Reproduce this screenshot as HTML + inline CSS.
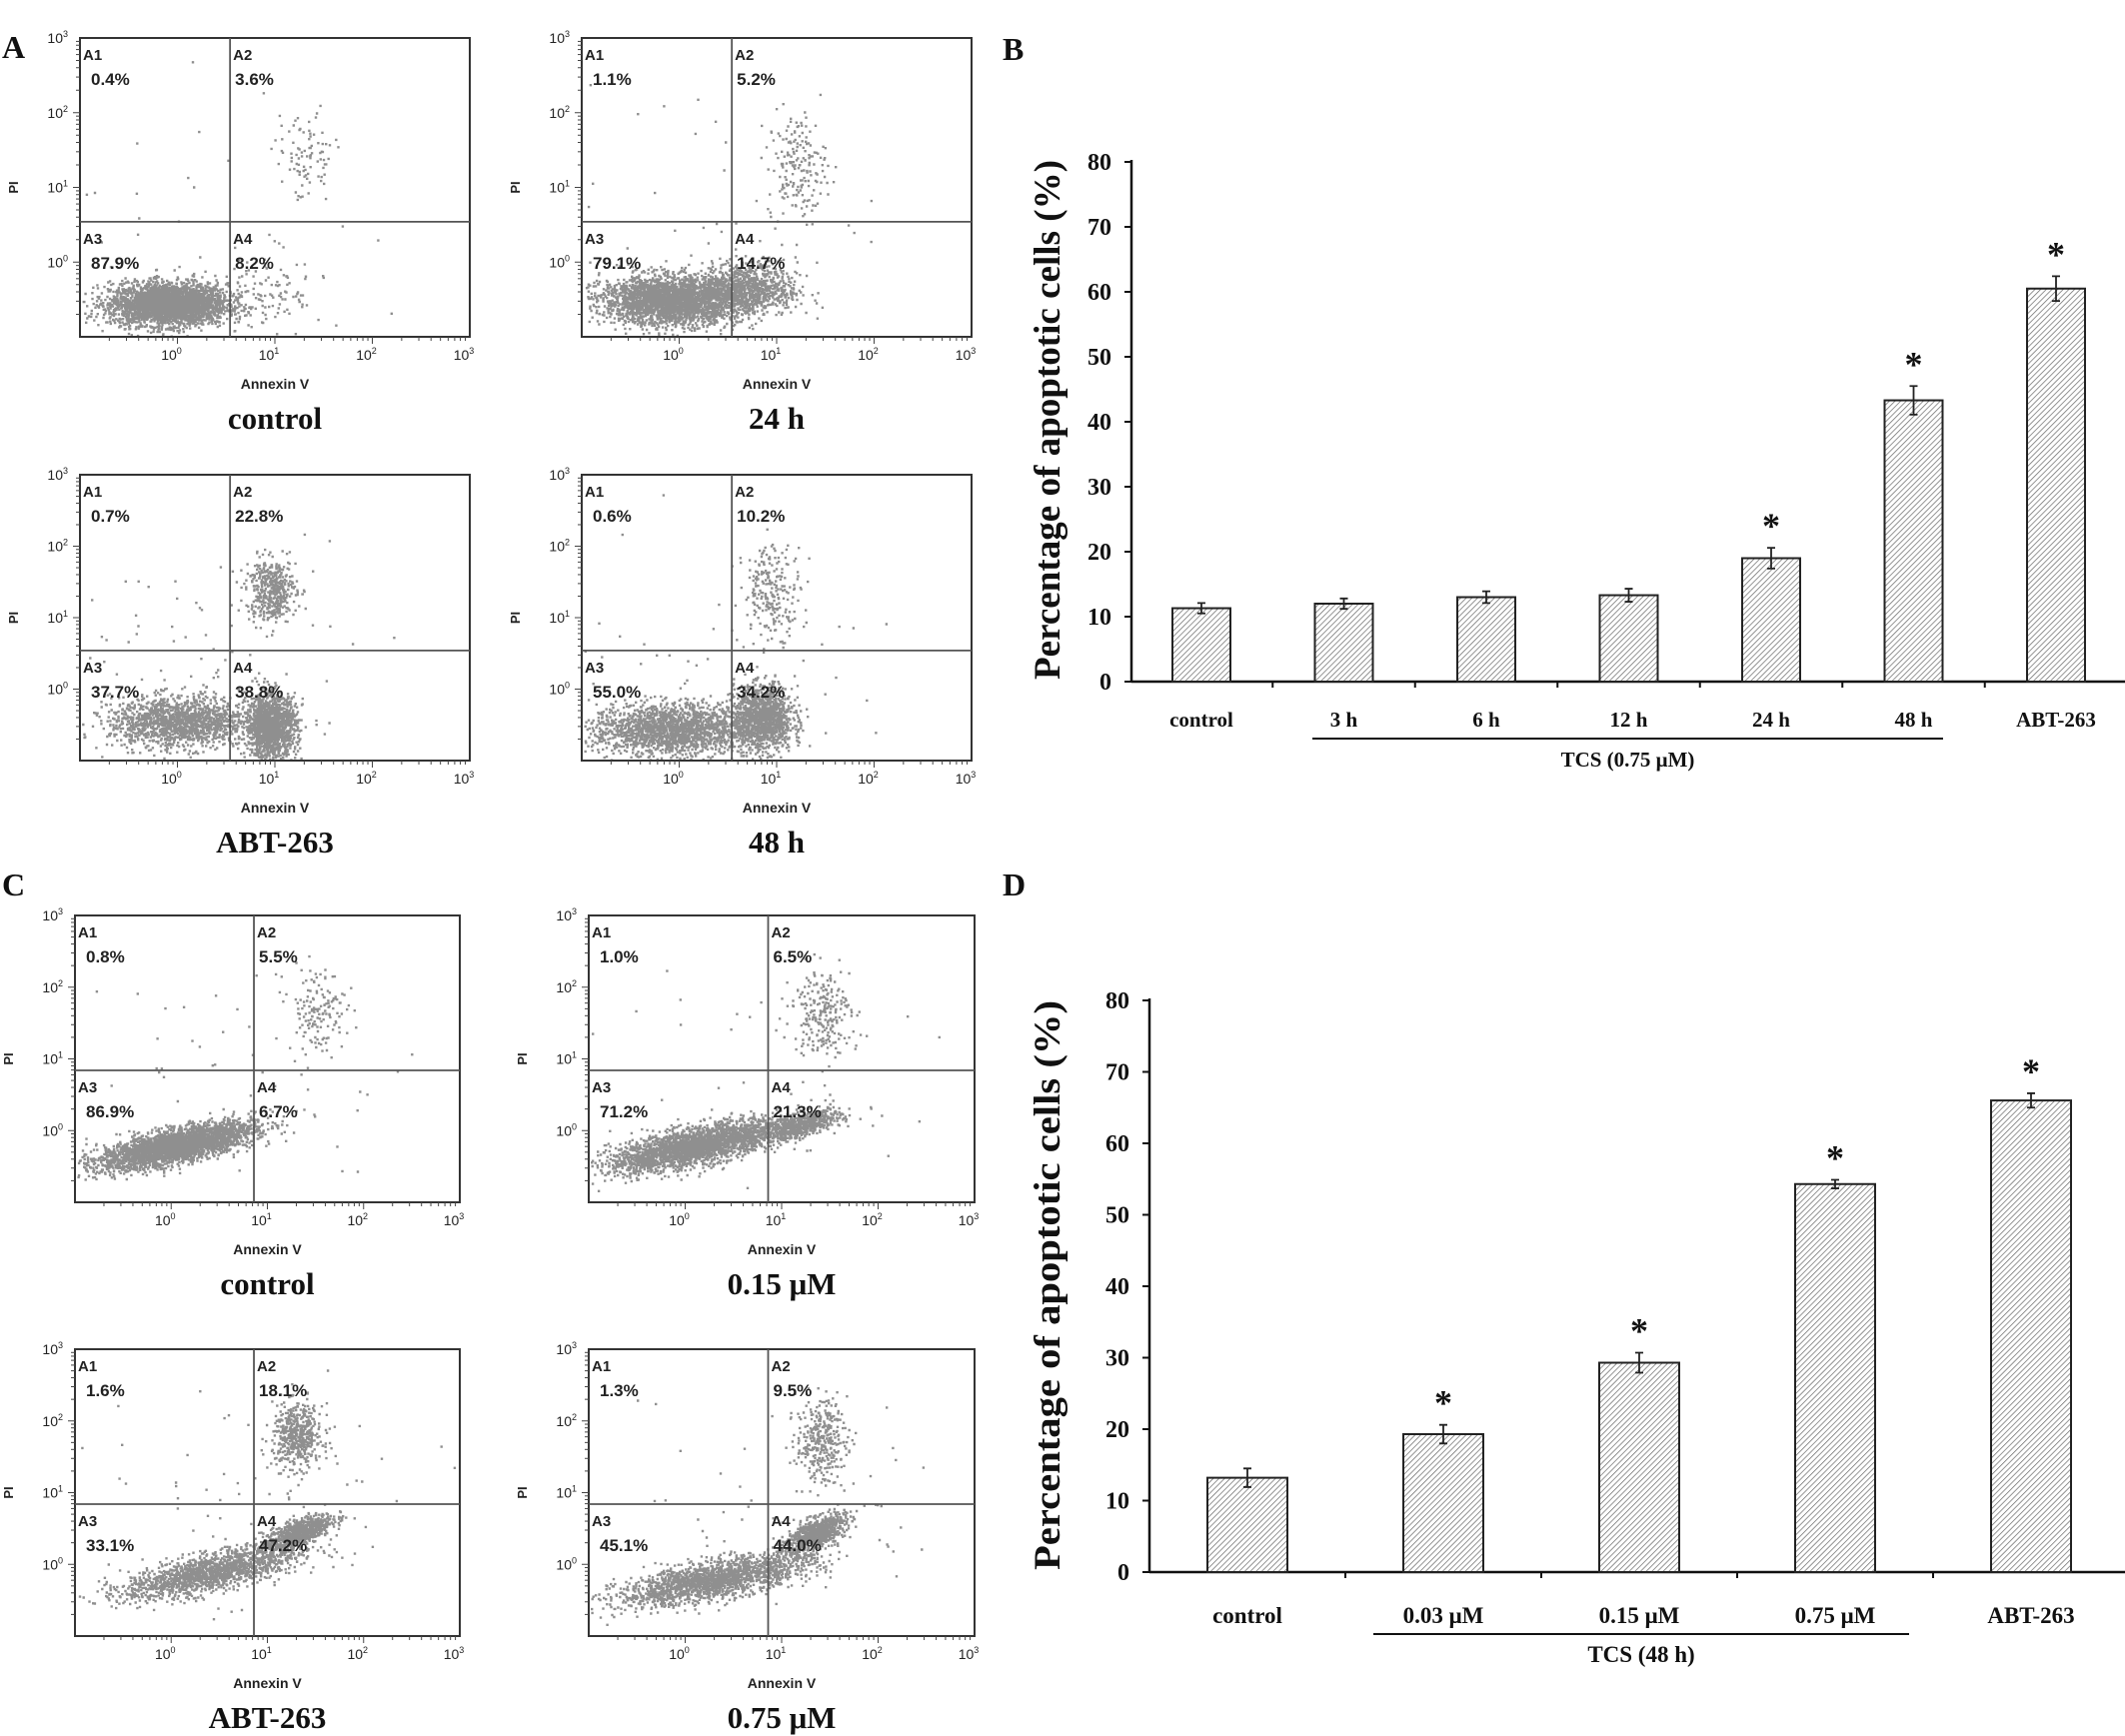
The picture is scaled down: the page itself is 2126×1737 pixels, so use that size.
<!DOCTYPE html>
<html><head><meta charset="utf-8"><style>
html,body{margin:0;padding:0;background:#fff;}
svg{display:block;}
.ser{font-family:"Liberation Serif",serif;font-weight:bold;fill:#111;}
.san{font-family:"Liberation Sans",sans-serif;fill:#222;}
</style></head><body>
<svg id="fig" width="2126" height="1737" viewBox="0 0 2126 1737" xmlns="http://www.w3.org/2000/svg">
<defs>
<pattern id="hatch" width="4" height="4" patternUnits="userSpaceOnUse" patternTransform="rotate(45)">
<rect width="4" height="4" fill="#fff"/><line x1="0" y1="0" x2="0" y2="4" stroke="#666" stroke-width="1.4"/>
</pattern>
</defs>
<text class="ser" x="2" y="58" font-size="32">A</text>
<text class="ser" x="1003" y="60" font-size="32">B</text>
<text class="ser" x="2" y="896" font-size="32">C</text>
<text class="ser" x="1003" y="896" font-size="32">D</text>
<g id="flows"></g>
<g id="bars"></g>
</svg>
<script>
// ---- Bar chart data ----
const catsB = ["control","3 h","6 h","12 h","24 h","48 h","ABT-263"];
const valsB = [11.3,12.0,13.0,13.3,19.0,43.3,60.5];
const errsB = [0.8,0.8,0.9,1.0,1.6,2.2,1.9];
const starB = [false,false,false,false,true,true,true];
const catsD = ["control","0.03 μM","0.15 μM","0.75 μM","ABT-263"];
const valsD = [13.2,19.3,29.3,54.3,66.0];
const errsD = [1.3,1.3,1.4,0.6,1.0];
const starD = [false,true,true,true,true];
const yTicks = [0,10,20,30,40,50,60,70,80];
// ---- Flow cytometry data ----
const flowTitles = ["control","24 h","ABT-263","48 h","control","0.15 μM","ABT-263","0.75 μM"];
const flowPcts = [
 ["0.4%","3.6%","87.9%","8.2%"],["1.1%","5.2%","79.1%","14.7%"],
 ["0.7%","22.8%","37.7%","38.8%"],["0.6%","10.2%","55.0%","34.2%"],
 ["0.8%","5.5%","86.9%","6.7%"],["1.0%","6.5%","71.2%","21.3%"],
 ["1.6%","18.1%","33.1%","47.2%"],["1.3%","9.5%","45.1%","44.0%"]];
// clusters: [cx, cy, sx, sy, corr, n] in log10 units
const flowClusters = [
 [[-0.1,-0.55,0.3,0.14,0,3200],[1.3,1.4,0.15,0.3,0,90],[0.9,-0.4,0.3,0.3,0,120],[0.0,0.5,0.8,0.8,0,30]],
 [[-0.1,-0.5,0.35,0.16,0,2800],[0.7,-0.35,0.25,0.18,0,900],[1.2,1.3,0.15,0.35,0,180],[0.3,0.8,0.8,0.8,0,40]],
 [[0.0,-0.45,0.35,0.18,0,1500],[0.95,-0.5,0.13,0.22,0,1500],[0.95,1.4,0.13,0.22,0,450],[0.5,0.5,0.8,0.9,0,60]],
 [[-0.1,-0.55,0.4,0.18,0,1900],[0.85,-0.4,0.15,0.22,0,1300],[0.95,1.4,0.15,0.32,0,230],[0.5,0.6,0.8,0.9,0,50]],
 [[0.05,-0.2,0.4,0.16,0.7,3200],[1.5,1.7,0.15,0.3,0,150],[0.8,0.8,0.9,0.9,0,50]],
 [[0.1,-0.2,0.45,0.18,0.7,2600],[1.2,0.1,0.2,0.1,0.6,600],[1.4,1.7,0.15,0.3,0,230],[0.8,0.8,0.9,0.9,0,50]],
 [[0.4,-0.1,0.45,0.18,0.7,1600],[1.3,0.45,0.18,0.13,0.7,800],[1.3,1.8,0.13,0.22,0,500],[0.9,0.9,0.9,0.9,0,70]],
 [[0.3,-0.2,0.5,0.18,0.7,1900],[1.35,0.45,0.15,0.13,0.6,800],[1.4,1.75,0.13,0.28,0,330],[0.9,0.9,0.9,0.9,0,60]]];
const flowQuad = [[0.54,0.54],[0.54,0.54],[0.54,0.54],[0.54,0.54],[0.86,0.84],[0.86,0.84],[0.86,0.84],[0.86,0.84]];
const flowBoxes = [[80,38,470,337],[582,38,972,337],[80,475,470,761],[582,475,972,761],
 [75,916,460,1203],[589,916,975,1203],[75,1350,460,1637],[589,1350,975,1637]];

const NS="http://www.w3.org/2000/svg";
function mk(tag,attrs,parent){const e=document.createElementNS(NS,tag);for(const k in attrs)e.setAttribute(k,attrs[k]);parent.appendChild(e);return e;}
let seed=12345;function rnd(){seed=(seed*1103515245+12345)%2147483648;return seed/2147483648;}
function gauss(){let u=rnd()||1e-9,v=rnd();return Math.sqrt(-2*Math.log(u))*Math.cos(2*Math.PI*v);}

const flows=document.getElementById('flows');
flowBoxes.forEach((b,i)=>{
 const [x0,y0,x1,y1]=b;
 const g=mk('g',{},flows);
 
 
 const sx=v=>x0+(v+1)/4*(x1-x0), sy=v=>y1-(v+1)/4*(y1-y0);
 let d="";
 flowClusters[i].forEach(c=>{const [cx,cy,ssx,ssy,r,n]=c;
  for(let k=0;k<n;k++){const a=gauss(),bb=gauss();const lx=cx+ssx*a, ly=cy+ssy*(r*a+Math.sqrt(1-r*r)*bb);
   if(lx<-0.98||lx>2.98||ly<-0.98||ly>2.98)continue;d+="M"+sx(lx).toFixed(1)+" "+sy(ly).toFixed(1)+"h2.4v2.4h-2.4z";}});
 const dots=mk('path',{d:d,fill:'#8f8f8f'},g);
 
 
 const box=mk('rect',{x:x0,y:y0,width:x1-x0,height:y1-y0,fill:'none',stroke:'#333','stroke-width':2},g);
 
 
 const qx=sx(flowQuad[i][0]), qy=sy(flowQuad[i][1]);
 mk('line',{x1:qx,y1:y0,x2:qx,y2:y1,stroke:'#555','stroke-width':1.8},g);
 mk('line',{x1:x0,y1:qy,x2:x1,y2:qy,stroke:'#555','stroke-width':1.8},g);
 for(let dec=-1;dec<3;dec++){for(let m=1;m<10;m++){const v=dec+Math.log10(m);if(v<=-1)continue;const L=m==1?7:4;
  mk('line',{x1:sx(v),y1:y1,x2:sx(v),y2:y1+L,stroke:'#444','stroke-width':1},g);
  mk('line',{x1:x0,y1:sy(v),x2:x0-L,y2:sy(v),stroke:'#444','stroke-width':1},g);}}
 for(let e=0;e<=3;e++){
  const t=mk('text',{x:sx(e)-6,y:y1+23,'font-size':14,'text-anchor':'middle',class:'san'},g);t.textContent='10';
  const s=mk('tspan',{dy:-6,'font-size':9},t);s.textContent=String(e);
  const t2=mk('text',{x:x0-12,y:sy(e)+5,'font-size':14,'text-anchor':'end',class:'san'},g);t2.textContent='10';
  const s2=mk('tspan',{dy:-6,'font-size':9},t2);s2.textContent=String(e);}
 const ax=mk('text',{x:(x0+x1)/2,y:y1+52,'font-size':14,'font-weight':'bold','text-anchor':'middle',class:'san'},g);ax.textContent='Annexin V';
 
 
 const pi=mk('text',{x:0,y:0,'font-size':13,'font-weight':'bold','text-anchor':'middle',class:'san',transform:`translate(${x0-62},${(y0+y1)/2}) rotate(-90)`},g);pi.textContent='PI';
 
 
 const ql=[["A1",x0+3,y0+22],["A2",qx+3,y0+22],["A3",x0+3,qy+22],["A4",qx+3,qy+22]];
 ql.forEach((q,j)=>{const t=mk('text',{x:q[1],y:q[2],'font-size':15,'font-weight':'bold',class:'san'},g);t.textContent=q[0];
  const p=mk('text',{x:q[1]+(j%2==0?8:2),y:q[2]+25,'font-size':17,'font-weight':'bold',class:'san'},g);p.textContent=flowPcts[i][j];
  
  });
 const tt=mk('text',{x:(x0+x1)/2,y:y1+92,'font-size':31,'text-anchor':'middle',class:'ser'},g);tt.textContent=flowTitles[i];
 
 
});

const bars=document.getElementById('bars');
function barChart(o){
 const g=mk('g',{},bars);
 
 
 const y=v=>o.y0-v*o.per10/10;
 const cx=i=>o.c0+i*o.step;
 mk('line',{x1:o.ax,y1:y(80)-2,x2:o.ax,y2:o.y0,stroke:'#111','stroke-width':2.5},g);
 mk('line',{x1:o.ax,y1:o.y0,x2:2126,y2:o.y0,stroke:'#111','stroke-width':2.5},g);
 yTicks.forEach(t=>{mk('line',{x1:o.ax-7,y1:y(t),x2:o.ax,y2:y(t),stroke:'#111','stroke-width':2},g);
  const tx=mk('text',{x:o.ax-20,y:y(t)+8,'font-size':24,'text-anchor':'end',class:'ser'},g);tx.textContent=t;});
 o.cats.forEach((c,i)=>{
  mk('line',{x1:cx(i)+o.step/2,y1:o.y0,x2:cx(i)+o.step/2,y2:o.y0+6,stroke:'#111','stroke-width':2},g);
  const r=mk('rect',{x:cx(i)-o.w/2,y:y(o.vals[i]),width:o.w,height:o.y0-y(o.vals[i]),fill:'url(#hatch)',stroke:'#222','stroke-width':2},g);
  
  
  const et=y(o.vals[i]+o.errs[i]), eb=y(o.vals[i]-o.errs[i]);
  mk('path',{d:`M${cx(i)} ${et}V${eb}M${cx(i)-4} ${et}h8M${cx(i)-4} ${eb}h8`,stroke:'#222','stroke-width':1.8,fill:'none'},g);
  if(o.stars[i]){const s=mk('text',{x:cx(i),y:et-10,'font-size':36,'text-anchor':'middle',class:'ser'},g);s.textContent='*';
   
   }
  const l=mk('text',{x:cx(i),y:o.labY,'font-size':o.fs,'text-anchor':'middle',class:'ser'},g);l.textContent=c;
  
  
 });
 mk('line',{x1:o.ul[0],y1:o.ulY,x2:o.ul[1],y2:o.ulY,stroke:'#111','stroke-width':2},g);
 const gl=mk('text',{x:(o.ul[0]+o.ul[1])/2,y:o.ulY+28,'font-size':o.fs,'text-anchor':'middle',class:'ser'},g);gl.textContent=o.group;
 
 
 const yt=mk('text',{x:0,y:0,'font-size':37,'text-anchor':'middle',class:'ser',textLength:o.tl,lengthAdjust:'spacingAndGlyphs',transform:`translate(${o.tx},${o.ty}) rotate(-90)`},g);
 yt.textContent='Percentage of apoptotic cells (%)';
 
 
}
barChart({name:'bar-chart-b',cats:catsB,vals:valsB,errs:errsB,stars:starB,ax:1132,y0:682,per10:65,c0:1202,step:142.5,w:58,labY:727,ul:[1313,1944],ulY:739,group:'TCS (0.75 μM)',tx:1060,ty:420,tl:520,fs:21});
barChart({name:'bar-chart-d',cats:catsD,vals:valsD,errs:errsD,stars:starD,ax:1150,y0:1573,per10:71.5,c0:1248,step:196,w:80,labY:1624,ul:[1374,1910],ulY:1635,group:'TCS (48 h)',tx:1060,ty:1286,tl:570,fs:23});
</script>
</body></html>
